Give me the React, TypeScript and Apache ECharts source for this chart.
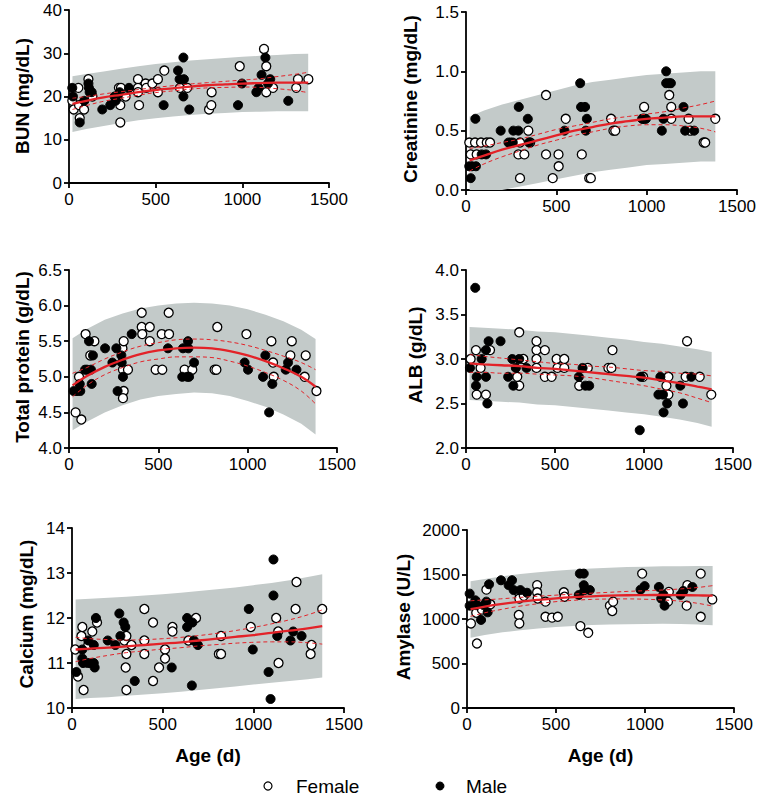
import React, { useEffect, useRef } from "react";
import * as echarts from "echarts";

// ---------- shared ----------
const xTicks = [0, 500, 1000, 1500];
const fitDays = [20, 100, 200, 300, 400, 500, 600, 700, 800, 900, 1000, 1100, 1200, 1300, 1380];
const legendLabels = ["Female", "Male"];
const xTitle = "Age (d)";

// ---------- BUN ----------
const bunTitle = "BUN (mg/dL)";
const bunFemale = [[19,19],[27,17],[54,22],[58,18],[62,15],[87,17],[112,24],[135,20],[288,22],[296,18],[296,14],[300,22],[327,20],[398,24],[398,22],[398,21],[404,18],[442,23],[446,22],[481,23],[513,24],[513,21],[550,26],[640,22],[683,22],[808,17],[821,18],[823,21],[985,27],[1125,31],[1138,27],[1138,21],[1177,22],[1311,22],[1321,24],[1381,24]];
const bunMale = [[19,22],[23,20],[62,14],[88,19],[112,23],[115,22],[119,21],[131,21],[192,17],[238,18],[263,20],[269,19],[281,20],[292,21],[346,22],[546,18],[629,26],[638,24],[663,24],[660,29],[660,20],[694,17],[975,18],[998,23],[1081,21],[1094,22],[1111,25],[1133,29],[1148,23],[1161,24],[1265,19]];
const bunFit = [18.3,19.0,19.8,20.4,21.0,21.5,21.9,22.3,22.6,22.8,23.0,23.1,23.2,23.2,23.2];
const bunCiUpper = [19.6,20.0,20.6,21.1,21.6,22.1,22.5,22.9,23.2,23.5,23.8,24.1,24.6,25.1,25.6];
const bunCiLower = [17.0,17.9,18.9,19.6,20.3,20.9,21.3,21.7,22.0,22.1,22.2,22.1,21.8,21.4,20.9];
const bunPiUpper = [24.7,25.2,25.8,26.4,27.0,27.5,27.9,28.3,28.6,28.9,29.2,29.4,29.6,29.8,29.9];
const bunPiLower = [11.8,12.5,13.2,13.9,14.5,15.0,15.4,15.7,16.0,16.2,16.4,16.5,16.6,16.6,16.6];

// ---------- Creatinine ----------
const creTitle = "Creatinine (mg/dL)";
const creFemale = [[18,0.4],[26,0.3],[50,0.4],[59,0.3],[83,0.4],[115,0.4],[133,0.4],[290,0.3],[299,0.4],[299,0.1],[323,0.3],[345,0.5],[355,0.4],[443,0.8],[443,0.3],[480,0.1],[512,0.3],[513,0.2],[552,0.6],[641,0.3],[682,0.1],[691,0.1],[803,0.6],[816,0.5],[826,0.5],[983,0.6],[986,0.7],[1125,0.8],[1136,0.7],[1136,0.6],[1232,0.6],[1241,0.5],[1315,0.4],[1324,0.4],[1380,0.6]];
const creMale = [[18,0.2],[26,0.1],[33,0.2],[52,0.6],[55,0.2],[87,0.3],[111,0.3],[192,0.5],[235,0.4],[247,0.4],[259,0.4],[262,0.5],[290,0.5],[292,0.7],[342,0.6],[349,0.4],[545,0.5],[632,0.9],[637,0.7],[659,0.7],[663,0.5],[669,0.6],[975,0.6],[996,0.6],[1084,0.5],[1093,0.6],[1108,1.0],[1108,0.9],[1123,0.9],[1134,0.9],[1204,0.7],[1213,0.5],[1263,0.5]];
const creFit = [0.25,0.29,0.34,0.38,0.42,0.46,0.50,0.53,0.56,0.58,0.60,0.61,0.62,0.62,0.62];
const creCiUpper = [0.35,0.37,0.40,0.43,0.47,0.51,0.54,0.57,0.60,0.62,0.64,0.66,0.69,0.72,0.75];
const creCiLower = [0.16,0.22,0.28,0.33,0.38,0.42,0.46,0.49,0.52,0.54,0.55,0.55,0.54,0.52,0.49];
const crePiUpper = [0.62,0.67,0.72,0.76,0.80,0.84,0.88,0.91,0.93,0.95,0.97,0.98,0.99,1.0,1.0];
const crePiLower = [0,0,0,0.03,0.06,0.09,0.12,0.15,0.17,0.19,0.21,0.22,0.23,0.24,0.24];

// ---------- Total protein ----------
const tpTitle = "Total protein (g/dL)";
const tpFemale = [[37,4.5],[56,5.0],[69,4.4],[93,5.6],[119,5.3],[142,5.5],[299,5.4],[302,5.1],[306,5.5],[306,4.8],[302,4.7],[330,5.1],[407,5.9],[407,5.7],[410,5.6],[452,5.7],[452,5.5],[485,5.1],[519,5.6],[522,5.1],[558,5.9],[560,5.6],[647,5.1],[690,5.1],[815,5.1],[825,5.1],[830,5.7],[993,5.6],[1133,5.5],[1142,5.2],[1146,5.0],[1239,5.3],[1247,5.5],[1319,5.0],[1325,5.3],[1385,4.8]];
const tpMale = [[26,4.8],[45,4.8],[60,4.9],[63,4.8],[90,5.1],[101,5.1],[112,5.5],[123,5.1],[127,4.9],[134,5.3],[202,5.4],[243,5.2],[265,5.4],[272,4.8],[293,5.3],[295,5.2],[302,5.0],[351,5.6],[554,5.4],[634,5.0],[638,5.4],[662,5.0],[666,5.5],[668,5.4],[672,5.0],[700,5.2],[983,5.2],[1002,5.1],[1086,5.0],[1099,5.3],[1120,4.5],[1138,4.9],[1213,5.1],[1226,5.2],[1273,5.1]];
const tpFit = [4.88,5.01,5.14,5.24,5.32,5.37,5.40,5.41,5.40,5.36,5.30,5.22,5.12,5.00,4.86];
const tpCiUpper = [5.05,5.13,5.25,5.35,5.43,5.48,5.52,5.53,5.52,5.49,5.44,5.37,5.29,5.20,5.10];
const tpCiLower = [4.72,4.88,5.03,5.13,5.21,5.25,5.28,5.28,5.27,5.22,5.15,5.06,4.95,4.80,4.62];
const tpPiUpper = [5.54,5.67,5.80,5.89,5.96,6.00,6.03,6.04,6.03,6.00,5.95,5.87,5.78,5.66,5.53];
const tpPiLower = [4.25,4.37,4.50,4.60,4.68,4.73,4.76,4.78,4.77,4.73,4.66,4.58,4.47,4.34,4.19];

// ---------- ALB ----------
const albTitle = "ALB (g/dL)";
const albFemale = [[26,3.0],[56,3.1],[60,2.6],[82,2.9],[112,2.6],[135,3.1],[288,2.8],[299,3.3],[299,2.7],[322,3.0],[396,3.2],[396,3.1],[396,3.0],[396,2.9],[443,3.1],[443,2.8],[481,2.8],[509,3.0],[514,2.9],[552,3.0],[552,2.9],[636,2.7],[684,2.9],[800,2.9],[817,2.9],[823,3.1],[995,2.8],[1126,2.7],[1137,2.8],[1137,2.6],[1234,2.8],[1242,3.2],[1313,2.8],[1378,2.6]];
const albMale = [[22,2.9],[52,3.8],[60,2.8],[56,2.7],[88,3.0],[112,2.8],[112,3.1],[120,2.5],[127,3.2],[194,3.2],[237,2.8],[260,3.0],[266,2.7],[280,2.9],[299,3.0],[340,2.9],[634,2.8],[655,2.9],[671,2.7],[692,2.7],[976,2.2],[982,2.8],[1081,2.6],[1092,2.8],[1107,2.6],[1110,2.4],[1130,2.5],[1204,2.7],[1219,2.5],[1266,2.8]];
const albFit = [2.95,2.94,2.93,2.92,2.90,2.89,2.87,2.85,2.83,2.81,2.79,2.76,2.73,2.69,2.66];
const albCiUpper = [3.05,3.03,3.01,2.99,2.97,2.95,2.94,2.92,2.91,2.89,2.87,2.86,2.84,2.83,2.81];
const albCiLower = [2.85,2.85,2.84,2.84,2.83,2.82,2.81,2.79,2.76,2.73,2.70,2.66,2.62,2.56,2.51];
const albPiUpper = [3.36,3.35,3.34,3.33,3.31,3.30,3.28,3.26,3.24,3.22,3.19,3.17,3.14,3.11,3.08];
const albPiLower = [2.54,2.53,2.52,2.51,2.49,2.48,2.46,2.44,2.42,2.40,2.38,2.35,2.32,2.28,2.24];

// ---------- Calcium ----------
const caTitle = "Calcium (mg/dL)";
const caFemale = [[18,11.3],[33,10.7],[52,11.6],[57,11.8],[64,10.4],[90,11.4],[112,11.7],[138,11.9],[289,11.5],[300,11.6],[300,11.2],[296,10.9],[300,10.4],[328,11.4],[399,12.2],[399,11.5],[399,11.2],[447,11.9],[447,10.6],[480,10.9],[513,11.3],[513,11.1],[554,11.8],[554,11.7],[642,11.5],[684,12.0],[810,11.2],[822,11.2],[822,11.6],[986,11.8],[1126,12.0],[1137,11.7],[1139,11.0],[1233,12.2],[1238,12.8],[1316,11.2],[1321,11.4],[1380,12.2]];
const caMale = [[24,10.8],[57,11.3],[57,11.1],[61,11.0],[86,11.0],[90,11.5],[101,11.0],[120,11.4],[120,11.0],[125,10.9],[132,12.0],[197,11.5],[239,11.4],[261,12.1],[267,11.6],[285,11.9],[294,11.8],[346,10.6],[550,10.9],[635,12.0],[635,11.8],[661,10.5],[664,11.9],[672,11.5],[694,11.4],[975,12.2],[997,11.3],[1084,10.8],[1095,10.2],[1111,13.3],[1111,12.5],[1132,11.6],[1205,11.5],[1220,11.7],[1266,11.6]];
const caFit = [11.30,11.32,11.34,11.37,11.40,11.43,11.46,11.50,11.54,11.58,11.62,11.67,11.72,11.77,11.82];
const caCiUpper = [11.57,11.54,11.52,11.51,11.52,11.54,11.57,11.61,11.66,11.72,11.79,11.87,11.96,12.07,12.18];
const caCiLower = [11.03,11.10,11.17,11.23,11.27,11.31,11.34,11.38,11.41,11.44,11.46,11.47,11.47,11.45,11.42];
const caPiUpper = [12.41,12.43,12.45,12.47,12.50,12.53,12.56,12.60,12.64,12.68,12.73,12.78,12.84,12.91,12.97];
const caPiLower = [10.20,10.22,10.24,10.27,10.30,10.33,10.36,10.40,10.44,10.48,10.52,10.56,10.60,10.64,10.68];

// ---------- Amylase ----------
const amyTitle = "Amylase (U/L)";
const amyFemale = [[22,950],[52,1070],[56,725],[84,1105],[109,1330],[131,1165],[291,1300],[294,1230],[291,1045],[294,950],[319,1260],[394,1380],[394,1300],[397,1230],[441,1195],[441,1025],[478,1015],[510,1025],[544,1300],[548,1250],[637,920],[681,845],[803,1150],[816,1090],[821,1195],[984,1510],[1129,1195],[1134,1305],[1234,1150],[1238,1380],[1313,1510],[1313,1025],[1378,1220]];
const amyMale = [[15,1285],[15,1150],[47,1210],[52,1155],[79,990],[94,1155],[109,1195],[116,1075],[124,1390],[191,1435],[234,1380],[253,1435],[262,1325],[300,1325],[337,1295],[628,1270],[634,1510],[656,1510],[656,1380],[660,1325],[690,1325],[975,1330],[998,1370],[1078,1360],[1091,1230],[1103,1275],[1110,1150],[1200,1270],[1215,1315],[1266,1360]];
const amyFit = [1110,1140,1170,1195,1215,1232,1245,1255,1262,1267,1269,1270,1268,1265,1262];
const amyCiUpper = [1205,1215,1228,1243,1256,1268,1280,1290,1300,1310,1318,1326,1338,1355,1375];
const amyCiLower = [1030,1070,1110,1145,1172,1195,1210,1220,1225,1226,1222,1214,1200,1175,1145];
const amyPiUpper = [1425,1450,1480,1505,1525,1542,1556,1567,1576,1583,1588,1592,1594,1595,1595];
const amyPiLower = [790,820,850,875,893,910,922,932,938,942,945,946,944,938,930];

// ---------- layout (positions/styles only) ----------
const FONT = "'Liberation Sans', Arial, Helvetica, sans-serif";
const RED = "#e32228";
const BAND = "#c3cac9";

const panels = [
  { title: bunTitle, female: bunFemale, male: bunMale, fit: bunFit, ciU: bunCiUpper, ciL: bunCiLower, piU: bunPiUpper, piL: bunPiLower, yMin: 0, yMax: 40, yInt: 10, dec: 0,
    grid: { left: 69, top: 10, width: 260, height: 173 }, tx: 22, ty: 96 },
  { title: creTitle, female: creFemale, male: creMale, fit: creFit, ciU: creCiUpper, ciL: creCiLower, piU: crePiUpper, piL: crePiLower, yMin: 0, yMax: 1.5, yInt: 0.5, dec: 1,
    grid: { left: 466, top: 12, width: 271, height: 178 }, tx: 410, ty: 99 },
  { title: tpTitle, female: tpFemale, male: tpMale, fit: tpFit, ciU: tpCiUpper, ciL: tpCiLower, piU: tpPiUpper, piL: tpPiLower, yMin: 4, yMax: 6.5, yInt: 0.5, dec: 1,
    grid: { left: 69, top: 270, width: 268, height: 178 }, tx: 22, ty: 357 },
  { title: albTitle, female: albFemale, male: albMale, fit: albFit, ciU: albCiUpper, ciL: albCiLower, piU: albPiUpper, piL: albPiLower, yMin: 2, yMax: 4, yInt: 0.5, dec: 1,
    grid: { left: 466, top: 270, width: 267, height: 178 }, tx: 415, ty: 355 },
  { title: caTitle, female: caFemale, male: caMale, fit: caFit, ciU: caCiUpper, ciL: caCiLower, piU: caPiUpper, piL: caPiLower, yMin: 10, yMax: 14, yInt: 1, dec: 0,
    grid: { left: 72, top: 528, width: 272, height: 180 }, tx: 26, ty: 614, xt: true },
  { title: amyTitle, female: amyFemale, male: amyMale, fit: amyFit, ciU: amyCiUpper, ciL: amyCiLower, piU: amyPiUpper, piL: amyPiLower, yMin: 0, yMax: 2000, yInt: 500, dec: 0,
    grid: { left: 467, top: 530, width: 267, height: 178 }, tx: 403, ty: 617, xt: true },
];

function buildOption() {
  const axisLine = { show: true, lineStyle: { color: "#000", width: 1.8 } };
  const axisTick = { show: true, inside: false, length: 5, lineStyle: { color: "#000", width: 1.8 } };
  const labelBase = { color: "#000", fontSize: 17, fontFamily: FONT };

  const grid: any[] = [];
  const xAxis: any[] = [];
  const yAxis: any[] = [];
  const series: any[] = [];
  const graphic: any[] = [];

  panels.forEach((p, i) => {
    grid.push({ ...p.grid, containLabel: false });
    xAxis.push({
      type: "value", gridIndex: i, min: xTicks[0], max: xTicks[xTicks.length - 1], interval: xTicks[1] - xTicks[0],
      axisLine, axisTick, splitLine: { show: false },
      axisLabel: { ...labelBase, margin: 8, formatter: (v: number) => String(v) },
    });
    yAxis.push({
      type: "value", gridIndex: i, min: p.yMin, max: p.yMax, interval: p.yInt,
      axisLine, axisTick, splitLine: { show: false },
      axisLabel: { ...labelBase, margin: 7, formatter: (v: number) => v.toFixed(p.dec) },
    });

    const piU = p.piU, piL = p.piL;
    series.push({
      type: "custom", xAxisIndex: i, yAxisIndex: i, clip: true, silent: true, z: 1,
      data: [[fitDays[0], piU[0]]],
      renderItem: (_params: any, api: any) => {
        const pts: number[][] = [];
        for (let k = 0; k < fitDays.length; k++) pts.push(api.coord([fitDays[k], piU[k]]));
        for (let k = fitDays.length - 1; k >= 0; k--) pts.push(api.coord([fitDays[k], piL[k]]));
        return { type: "polygon", shape: { points: pts }, style: { fill: BAND } };
      },
    });

    series.push({
      type: "scatter", name: legendLabels[0], xAxisIndex: i, yAxisIndex: i, z: 3,
      symbol: "circle", symbolSize: 9, data: p.female,
      itemStyle: { color: "#ffffff", borderColor: "#000", borderWidth: 1.3, opacity: 1 },
    });
    series.push({
      type: "scatter", name: legendLabels[1], xAxisIndex: i, yAxisIndex: i, z: 3,
      symbol: "circle", symbolSize: 9, data: p.male,
      itemStyle: { color: "#000000", borderColor: "#000", borderWidth: 1, opacity: 1 },
    });

    const mk = (vals: number[], width: number, dashed: boolean) => ({
      type: "line", xAxisIndex: i, yAxisIndex: i, z: 4, silent: true,
      showSymbol: false, symbol: "none", smooth: 0.4,
      data: fitDays.map((d, k) => [d, vals[k]]),
      lineStyle: { color: RED, width, type: dashed ? [4, 3] : "solid" },
    });
    series.push(mk(p.ciU, 1, true));
    series.push(mk(p.ciL, 1, true));
    series.push(mk(p.fit, 2.3, false));

    graphic.push({
      type: "text", x: p.tx, y: p.ty, rotation: Math.PI / 2,
      style: { text: p.title, fontSize: 19, fontWeight: "bold", fontFamily: FONT, fill: "#000", textAlign: "center", textVerticalAlign: "middle" },
    });
    if ((p as any).xt) {
      graphic.push({
        type: "text", x: p.grid.left + p.grid.width / 2, y: 755,
        style: { text: xTitle, fontSize: 19, fontWeight: "bold", fontFamily: FONT, fill: "#000", textAlign: "center", textVerticalAlign: "middle" },
      });
    }
  });

  // legend
  graphic.push({ type: "circle", shape: { cx: 268, cy: 786, r: 4 }, style: { fill: "#fff", stroke: "#000", lineWidth: 1.2 } });
  graphic.push({ type: "text", x: 296, y: 786, style: { text: legendLabels[0], fontSize: 19, fontFamily: FONT, fill: "#000", textAlign: "left", textVerticalAlign: "middle" } });
  graphic.push({ type: "circle", shape: { cx: 440, cy: 786, r: 4 }, style: { fill: "#000", stroke: "#000", lineWidth: 1 } });
  graphic.push({ type: "text", x: 466, y: 786, style: { text: legendLabels[1], fontSize: 19, fontFamily: FONT, fill: "#000", textAlign: "left", textVerticalAlign: "middle" } });

  return { animation: false, backgroundColor: "#fff", grid, xAxis, yAxis, series, graphic };
}

export default function App() {
  const ref = useRef<HTMLDivElement>(null);
  useEffect(() => {
    if (!ref.current) return;
    const chart = echarts.init(ref.current, undefined, { renderer: "svg" });
    chart.setOption(buildOption() as any);
    return () => chart.dispose();
  }, []);
  return (
    <div
      ref={ref}
      style={{ position: "fixed", left: 0, top: 0, width: 763, height: 796, background: "#fff" }}
    />
  );
}
